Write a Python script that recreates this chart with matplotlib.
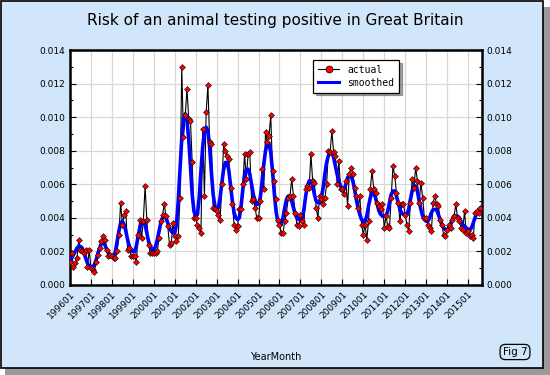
import matplotlib
matplotlib.use("Agg")
import matplotlib.pyplot as plt
from matplotlib.patches import FancyBboxPatch, Rectangle
from matplotlib.lines import Line2D
import numpy as np

start_year = 1996
tick_years = list(range(1996, 2016))
tick_labels = [f"{y}01" for y in tick_years]

# actual monthly values, one row per year (1996 .. 2015 partial)
actual_rows = [
    [.0014, .0019, .0011, .0013, .0016, .0027, .0021, .0020, .0019, .0021, .0011, .0021],
    [.0010, .0009, .0008, .0014, .0018, .0022, .0026, .0029, .0027, .0021, .0017, .0018],
    [.0017, .0016, .0016, .0020, .0030, .0049, .0036, .0042, .0044, .0021, .0022, .0017],
    [.0017, .0017, .0014, .0030, .0039, .0028, .0038, .0059, .0039, .0024, .0019, .0019],
    [.0019, .0019, .0020, .0028, .0038, .0042, .0048, .0041, .0035, .0024, .0025, .0037],
    [.0029, .0026, .0029, .0052, .0130, .0088, .0101, .0117, .0099, .0098, .0073, .0040],
    [.0040, .0036, .0034, .0031, .0093, .0053, .0103, .0119, .0085, .0084, .0046, .0045],
    [.0044, .0042, .0039, .0060, .0084, .0080, .0077, .0075, .0058, .0048, .0036, .0033],
    [.0035, .0045, .0045, .0060, .0078, .0063, .0078, .0079, .0050, .0051, .0046, .0040],
    [.0040, .0050, .0069, .0057, .0091, .0085, .0089, .0101, .0068, .0062, .0051, .0039],
    [.0036, .0031, .0031, .0038, .0043, .0052, .0053, .0063, .0053, .0043, .0036, .0035],
    [.0042, .0038, .0036, .0057, .0059, .0058, .0078, .0062, .0061, .0046, .0040, .0053],
    [.0051, .0048, .0052, .0060, .0080, .0079, .0092, .0079, .0077, .0060, .0074, .0057],
    [.0057, .0054, .0062, .0047, .0066, .0070, .0066, .0058, .0053, .0046, .0053, .0036],
    [.0030, .0036, .0027, .0038, .0057, .0068, .0057, .0055, .0049, .0047, .0045, .0048],
    [.0034, .0041, .0035, .0034, .0052, .0071, .0065, .0055, .0049, .0038, .0048, .0048],
    [.0042, .0036, .0032, .0049, .0063, .0058, .0070, .0062, .0049, .0061, .0052, .0040],
    [.0040, .0036, .0034, .0032, .0049, .0053, .0048, .0047, .0039, .0036, .0030, .0029],
    [.0033, .0036, .0034, .0039, .0041, .0048, .0040, .0038, .0034, .0033, .0044, .0031],
    [.0032, .0029, .0030, .0028, .0043, .0044, .0043, .0046],
]

smoothed_rows = [
    [.0015, .0016, .0018, .0020, .0022, .0023, .0023, .0022, .0019, .0016, .0013, .0011],
    [.0011, .0011, .0012, .0015, .0019, .0022, .0025, .0025, .0024, .0021, .0019, .0017],
    [.0017, .0017, .0020, .0026, .0032, .0037, .0038, .0036, .0032, .0027, .0023, .0021],
    [.0020, .0020, .0023, .0029, .0034, .0037, .0038, .0036, .0031, .0026, .0023, .0021],
    [.0021, .0023, .0027, .0032, .0037, .0040, .0041, .0040, .0037, .0034, .0032, .0031],
    [.0031, .0036, .0050, .0068, .0087, .0099, .0102, .0098, .0087, .0070, .0054, .0044],
    [.0041, .0042, .0052, .0068, .0082, .0091, .0094, .0092, .0082, .0067, .0054, .0047],
    [.0045, .0046, .0052, .0061, .0069, .0073, .0073, .0068, .0059, .0050, .0043, .0040],
    [.0039, .0040, .0047, .0057, .0065, .0069, .0069, .0066, .0060, .0054, .0050, .0048],
    [.0048, .0052, .0061, .0072, .0080, .0084, .0084, .0079, .0068, .0055, .0044, .0038],
    [.0037, .0036, .0040, .0046, .0051, .0053, .0053, .0050, .0046, .0042, .0040, .0039],
    [.0039, .0040, .0045, .0053, .0059, .0062, .0062, .0059, .0054, .0050, .0049, .0049],
    [.0052, .0058, .0066, .0073, .0077, .0079, .0079, .0076, .0071, .0066, .0062, .0059],
    [.0057, .0057, .0060, .0064, .0065, .0065, .0062, .0057, .0051, .0046, .0042, .0039],
    [.0038, .0038, .0041, .0047, .0052, .0055, .0055, .0052, .0048, .0044, .0042, .0041],
    [.0041, .0041, .0044, .0049, .0054, .0056, .0056, .0053, .0049, .0045, .0043, .0042],
    [.0042, .0042, .0045, .0051, .0056, .0059, .0059, .0056, .0050, .0045, .0041, .0039],
    [.0038, .0038, .0040, .0043, .0045, .0045, .0045, .0042, .0039, .0036, .0034, .0033],
    [.0033, .0034, .0036, .0039, .0041, .0041, .0041, .0040, .0038, .0036, .0035, .0034],
    [.0033, .0033, .0034, .0037, .0040, .0043, .0044, .0044],
]

actual = [v for row in actual_rows for v in row]
smoothed = [v for row in smoothed_rows for v in row]
months = np.arange(len(actual))

BG = "#D1E5FB"
fig = plt.figure(figsize=(5.5, 3.75), dpi=100)
fig.patch.set_facecolor("white")

# panel with shadow
fig.patches.append(Rectangle((5 / 550, 0), 545 / 550, 1 - 7 / 375, transform=fig.transFigure,
                             facecolor="#9a9a9a", edgecolor="none", zorder=-3))
fig.patches.append(Rectangle((1 / 550, 7 / 375), 542 / 550, 1 - 8 / 375, transform=fig.transFigure,
                             facecolor=BG, edgecolor="black", linewidth=1.2, zorder=-2))

ax = fig.add_axes([70 / 550, 1 - 285 / 375, 412 / 550, 235 / 375])
ax.set_facecolor("white")

ax.plot(months, actual, color="black", linewidth=0.8, zorder=2)
ax.plot(months, smoothed, color="#0000FF", linewidth=2.6, zorder=3)
ax.plot(months, actual, linestyle="none", marker="D", markersize=3.0,
        markerfacecolor="#FF0000", markeredgecolor="black", markeredgewidth=0.4, zorder=4)

ax.set_xlim(0, 236)
ax.set_ylim(0, 0.014)
tick_pos = [(y - start_year) * 12 for y in tick_years]
ax.set_xticks(tick_pos)
ax.set_xticklabels(tick_labels, rotation=45, ha="right", rotation_mode="anchor", fontsize=6.5)
ax.set_yticks(np.arange(0, 0.0141, 0.002))
ax.set_yticks(np.arange(0.001, 0.014, 0.002), minor=True)
ax.yaxis.set_major_formatter(matplotlib.ticker.FormatStrFormatter("%.3f"))
ax.tick_params(axis="both", labelsize=6.5, direction="in", length=4, width=0.8,
               right=True, labelright=True, top=False)
ax.tick_params(axis="y", which="minor", direction="in", length=2.5, width=0.8, right=True)
ax.grid(True, which="major", color="#D8D8D8", linewidth=0.9, zorder=0)
ax.set_axisbelow(True)
for s in ax.spines.values():
    s.set_linewidth(1.8)
    s.set_color("black")

ax.set_xlabel("YearMonth", fontsize=7, labelpad=0)
ax.xaxis.set_label_coords(0.5, -(352 - 285) / 235, transform=ax.transAxes)

fig.text(0.5, 1 - 20 / 375, "Risk of an animal testing positive in Great Britain",
         ha="center", va="center", fontsize=11)

# Fig 7 box
fig.text(515 / 550, 1 - 352 / 375, "Fig 7", ha="center", va="center", fontsize=7.5,
         bbox=dict(boxstyle="round,pad=0.25,rounding_size=0.5", facecolor=BG,
                   edgecolor="black", linewidth=0.9))

handles = [
    Line2D([], [], color="black", linewidth=0.8, marker="o", markersize=5,
           markerfacecolor="#FF0000", markeredgecolor="black", markeredgewidth=0.5),
    Line2D([], [], color="#0000FF", linewidth=2.2),
]
leg = ax.legend(handles, ["actual", "smoothed"], loc="upper left",
                bbox_to_anchor=((313 - 70) / 412, (285 - 60) / 235),
                prop={"family": "DejaVu Sans Mono", "size": 7},
                frameon=True, fancybox=False, shadow=True, borderpad=0.5,
                handlelength=2.2, labelspacing=0.3, borderaxespad=0)
leg.get_frame().set_edgecolor("black")
leg.get_frame().set_linewidth(0.9)
leg.set_zorder(10)

fig.savefig("out.png", dpi=100, facecolor=fig.get_facecolor())
